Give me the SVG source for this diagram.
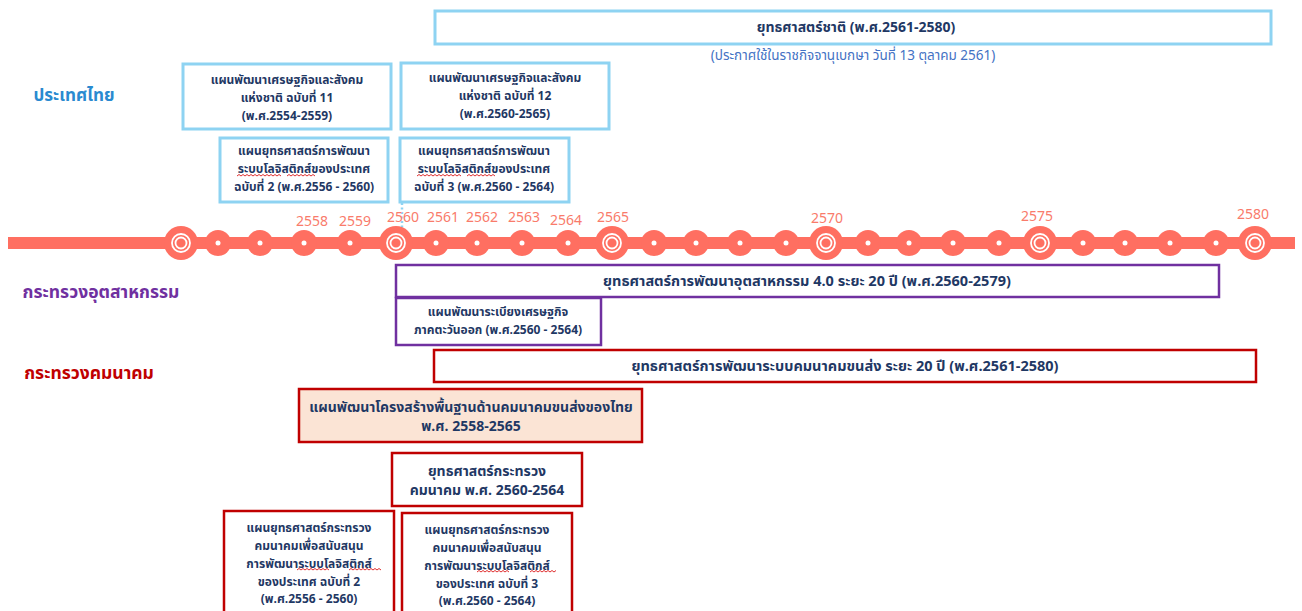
<svg xmlns="http://www.w3.org/2000/svg" width="1302" height="611" viewBox="0 0 1302 611">
<defs>
<style>
text{font-family:Tahoma,"Noto Sans Thai","Noto Sans","DejaVu Sans",sans-serif;text-anchor:middle}
.bx{fill:#fff;stroke:#8ed3f2;stroke-width:3}
.pb{fill:#fff;stroke:#7030a0;stroke-width:2.5}
.rb{fill:#fff;stroke:#c00000;stroke-width:2.5}
.t{fill:#1f3864;font-size:12px;font-weight:bold}
.tm{fill:#1f3864;font-size:14.5px;font-weight:bold}
.tl{fill:#1f3864;font-size:14px;font-weight:bold}
.yr{fill:#f97b6b;font-size:14px}
.sq{fill:none;stroke:#e03030;stroke-width:1}
.big{fill:#ff6f61}
.ring{fill:none;stroke:#fff;stroke-width:1.8}
.dot{fill:#fff}
</style>
</defs>
<g id="timeline">
<rect x="8" y="237" width="1287" height="12" fill="#ff6f61"/>
<line x1="402" y1="203" x2="402" y2="235" stroke="#8ed3f2" stroke-width="2.5" stroke-dasharray="2,2.5"/>
<g id="big-circles">
<circle class="big" cx="181" cy="243" r="17"/><circle class="ring" cx="181" cy="243" r="9"/><circle class="ring" cx="181" cy="243" r="5.5"/>
<circle class="big" cx="396" cy="243" r="17"/><circle class="ring" cx="396" cy="243" r="9"/><circle class="ring" cx="396" cy="243" r="5.5"/>
<circle class="big" cx="612" cy="243" r="17"/><circle class="ring" cx="612" cy="243" r="9"/><circle class="ring" cx="612" cy="243" r="5.5"/>
<circle class="big" cx="826" cy="243" r="17"/><circle class="ring" cx="826" cy="243" r="9"/><circle class="ring" cx="826" cy="243" r="5.5"/>
<circle class="big" cx="1040" cy="243" r="17"/><circle class="ring" cx="1040" cy="243" r="9"/><circle class="ring" cx="1040" cy="243" r="5.5"/>
<circle class="big" cx="1255" cy="243" r="17"/><circle class="ring" cx="1255" cy="243" r="9"/><circle class="ring" cx="1255" cy="243" r="5.5"/>
</g>
<g id="small-circles">
<circle class="big" cx="218" cy="243" r="13"/><circle class="dot" cx="218" cy="243" r="2.5"/>
<circle class="big" cx="260" cy="243" r="13"/><circle class="dot" cx="260" cy="243" r="2.5"/>
<circle class="big" cx="304" cy="243" r="13"/><circle class="dot" cx="304" cy="243" r="2.5"/>
<circle class="big" cx="350" cy="243" r="13"/><circle class="dot" cx="350" cy="243" r="2.5"/>
<circle class="big" cx="436" cy="243" r="13"/><circle class="dot" cx="436" cy="243" r="2.5"/>
<circle class="big" cx="477" cy="243" r="13"/><circle class="dot" cx="477" cy="243" r="2.5"/>
<circle class="big" cx="522" cy="243" r="13"/><circle class="dot" cx="522" cy="243" r="2.5"/>
<circle class="big" cx="568" cy="243" r="13"/><circle class="dot" cx="568" cy="243" r="2.5"/>
<circle class="big" cx="654" cy="243" r="13"/><circle class="dot" cx="654" cy="243" r="2.5"/>
<circle class="big" cx="696" cy="243" r="13"/><circle class="dot" cx="696" cy="243" r="2.5"/>
<circle class="big" cx="740" cy="243" r="13"/><circle class="dot" cx="740" cy="243" r="2.5"/>
<circle class="big" cx="786" cy="243" r="13"/><circle class="dot" cx="786" cy="243" r="2.5"/>
<circle class="big" cx="868" cy="243" r="13"/><circle class="dot" cx="868" cy="243" r="2.5"/>
<circle class="big" cx="909" cy="243" r="13"/><circle class="dot" cx="909" cy="243" r="2.5"/>
<circle class="big" cx="953" cy="243" r="13"/><circle class="dot" cx="953" cy="243" r="2.5"/>
<circle class="big" cx="999" cy="243" r="13"/><circle class="dot" cx="999" cy="243" r="2.5"/>
<circle class="big" cx="1083" cy="243" r="13"/><circle class="dot" cx="1083" cy="243" r="2.5"/>
<circle class="big" cx="1125" cy="243" r="13"/><circle class="dot" cx="1125" cy="243" r="2.5"/>
<circle class="big" cx="1170" cy="243" r="13"/><circle class="dot" cx="1170" cy="243" r="2.5"/>
<circle class="big" cx="1216" cy="243" r="13"/><circle class="dot" cx="1216" cy="243" r="2.5"/>
</g>
<g id="years">
<text class="yr" x="312" y="226">2558</text>
<text class="yr" x="355" y="226">2559</text>
<text class="yr" x="403" y="222">2560</text>
<text class="yr" x="443" y="222">2561</text>
<text class="yr" x="482" y="222">2562</text>
<text class="yr" x="524" y="222">2563</text>
<text class="yr" x="566" y="225">2564</text>
<text class="yr" x="613" y="222">2565</text>
<text class="yr" x="827" y="223">2570</text>
<text class="yr" x="1037" y="221">2575</text>
<text class="yr" x="1253" y="219">2580</text>
</g>
</g>
<g id="labels">
<text x="74" y="101" style="fill:#2a8ad0;font-size:17px;font-weight:bold">ประเทศไทย</text>
<text x="101" y="298" style="fill:#7030a0;font-size:17.5px;font-weight:bold">กระทรวงอุตสาหกรรม</text>
<text x="89" y="379" style="fill:#c00000;font-size:17.5px;font-weight:bold">กระทรวงคมนาคม</text>
</g>
<g id="national-strategy">
<rect class="bx" x="435" y="11" width="836" height="33"/>
<text x="856" y="32" style="fill:#1f3864;font-size:14px;font-weight:bold">ยุทธศาสตร์ชาติ (พ.ศ.2561-2580)</text>
<text x="853" y="60" style="fill:#4472c4;font-size:13.5px">(ประกาศใช้ในราชกิจจานุเบกษา วันที่ 13 ตุลาคม 2561)</text>
</g>
<g id="nesdp11">
<rect class="bx" x="183" y="64" width="208" height="65"/>
<text class="t" x="287" y="84">แผนพัฒนาเศรษฐกิจและสังคม</text>
<text class="t" x="287" y="102">แห่งชาติ ฉบับที่ 11</text>
<text class="t" x="287" y="120">(พ.ศ.2554-2559)</text>
</g>
<g id="nesdp12">
<rect class="bx" x="401" y="63" width="208" height="66"/>
<text class="t" x="505" y="82">แผนพัฒนาเศรษฐกิจและสังคม</text>
<text class="t" x="505" y="100">แห่งชาติ ฉบับที่ 12</text>
<text class="t" x="505" y="118">(พ.ศ.2560-2565)</text>
</g>
<g id="logistics2">
<rect class="bx" x="220" y="138" width="168" height="64"/>
<text class="t" x="304" y="155">แผนยุทธศาสตร์การพัฒนา</text>
<text class="t" x="304" y="173">ระบบโลจิสติกส์ของประเทศ</text>
<text class="t" x="304" y="191">ฉบับที่ 2 (พ.ศ.2556 - 2560)</text>
<path class="sq" d="M237,176 l2,-1.5 l2,1.5 l2,-1.5 l2,1.5 l2,-1.5 l2,1.5 l2,-1.5 l2,1.5 l2,-1.5 l2,1.5 l2,-1.5 l2,1.5 l2,-1.5 l2,1.5 l2,-1.5 l2,1.5 l2,-1.5 l2,1.5 l2,-1.5 l2,1.5 l2,-1.5 l2,1.5"/>
<path class="sq" d="M287,176 l2,-1.5 l2,1.5 l2,-1.5 l2,1.5 l2,-1.5 l2,1.5 l2,-1.5 l2,1.5 l2,-1.5 l2,1.5 l2,-1.5 l2,1.5 l2,-1.5 l2,1.5"/>
</g>
<g id="logistics3">
<rect class="bx" x="400" y="138" width="169" height="64"/>
<text class="t" x="484" y="155">แผนยุทธศาสตร์การพัฒนา</text>
<text class="t" x="484" y="173">ระบบโลจิสติกส์ของประเทศ</text>
<text class="t" x="484" y="191">ฉบับที่ 3 (พ.ศ.2560 - 2564)</text>
<path class="sq" d="M417,176 l2,-1.5 l2,1.5 l2,-1.5 l2,1.5 l2,-1.5 l2,1.5 l2,-1.5 l2,1.5 l2,-1.5 l2,1.5 l2,-1.5 l2,1.5 l2,-1.5 l2,1.5 l2,-1.5 l2,1.5 l2,-1.5 l2,1.5 l2,-1.5 l2,1.5 l2,-1.5 l2,1.5"/>
<path class="sq" d="M467,176 l2,-1.5 l2,1.5 l2,-1.5 l2,1.5 l2,-1.5 l2,1.5 l2,-1.5 l2,1.5 l2,-1.5 l2,1.5 l2,-1.5 l2,1.5 l2,-1.5 l2,1.5"/>
</g>
<g id="industry40">
<rect class="pb" x="396" y="265" width="823" height="32"/>
<text class="tm" x="807" y="286">ยุทธศาสตร์การพัฒนาอุตสาหกรรม 4.0 ระยะ 20 ปี (พ.ศ.2560-2579)</text>
</g>
<g id="eec">
<rect class="pb" x="396" y="298" width="205" height="47"/>
<text class="t" x="498" y="316">แผนพัฒนาระเบียงเศรษฐกิจ</text>
<text class="t" x="498" y="334">ภาคตะวันออก (พ.ศ.2560 - 2564)</text>
</g>
<g id="transport20">
<rect class="rb" x="434" y="350" width="822" height="32"/>
<text class="tm" x="845" y="371">ยุทธศาสตร์การพัฒนาระบบคมนาคมขนส่ง ระยะ 20 ปี (พ.ศ.2561-2580)</text>
</g>
<g id="infrastructure">
<rect x="299" y="389" width="343" height="53" fill="#fbe4d5" stroke="#c00000" stroke-width="2.5"/>
<text class="tl" x="471" y="412">แผนพัฒนาโครงสร้างพื้นฐานด้านคมนาคมขนส่งของไทย</text>
<text class="tl" x="471" y="431">พ.ศ. 2558-2565</text>
</g>
<g id="ministry-strategy">
<rect class="rb" x="392" y="453" width="190" height="53"/>
<text class="tl" x="487" y="476">ยุทธศาสตร์กระทรวง</text>
<text class="tl" x="487" y="495">คมนาคม พ.ศ. 2560-2564</text>
</g>
<g id="mot-logistics2">
<rect class="rb" x="224" y="511" width="170" height="110"/>
<text class="t" x="309" y="532">แผนยุทธศาสตร์กระทรวง</text>
<text class="t" x="309" y="550">คมนาคมเพื่อสนับสนุน</text>
<text class="t" x="309" y="568">การพัฒนาระบบโลจิสติกส์</text>
<text class="t" x="309" y="586">ของประเทศ ฉบับที่ 2</text>
<text class="t" x="309" y="603">(พ.ศ.2556 - 2560)</text>
<path class="sq" d="M297,570 l2,-1.5 l2,1.5 l2,-1.5 l2,1.5 l2,-1.5 l2,1.5 l2,-1.5 l2,1.5 l2,-1.5 l2,1.5 l2,-1.5 l2,1.5 l2,-1.5 l2,1.5 l2,-1.5 l2,1.5"/>
<path class="sq" d="M349,570 l2,-1.5 l2,1.5 l2,-1.5 l2,1.5 l2,-1.5 l2,1.5 l2,-1.5 l2,1.5 l2,-1.5 l2,1.5 l2,-1.5 l2,1.5 l2,-1.5 l2,1.5 l2,-1.5 l2,1.5"/>
</g>
<g id="mot-logistics3">
<rect class="rb" x="402" y="513" width="170" height="110"/>
<text class="t" x="487" y="534">แผนยุทธศาสตร์กระทรวง</text>
<text class="t" x="487" y="552">คมนาคมเพื่อสนับสนุน</text>
<text class="t" x="487" y="570">การพัฒนาระบบโลจิสติกส์</text>
<text class="t" x="487" y="588">ของประเทศ ฉบับที่ 3</text>
<text class="t" x="487" y="605">(พ.ศ.2560 - 2564)</text>
<path class="sq" d="M477,572 l2,-1.5 l2,1.5 l2,-1.5 l2,1.5 l2,-1.5 l2,1.5 l2,-1.5 l2,1.5 l2,-1.5 l2,1.5 l2,-1.5 l2,1.5 l2,-1.5 l2,1.5 l2,-1.5 l2,1.5"/>
<path class="sq" d="M530,572 l2,-1.5 l2,1.5 l2,-1.5 l2,1.5 l2,-1.5 l2,1.5 l2,-1.5 l2,1.5 l2,-1.5 l2,1.5 l2,-1.5 l2,1.5 l2,-1.5"/>
</g>
</svg>
